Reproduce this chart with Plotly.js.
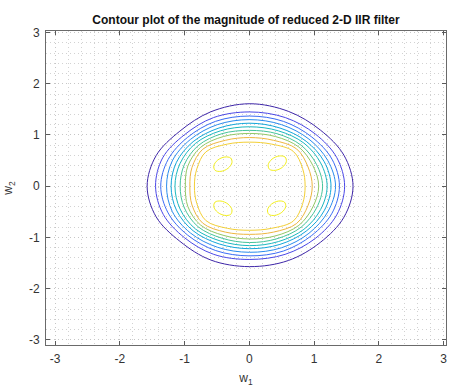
<!DOCTYPE html>
<html>
<head>
<meta charset="utf-8">
<script src="https://cdn.plot.ly/plotly-3.0.1.min.js"></script>
<style>
  html, body { margin: 0; padding: 0; background: #ffffff; }
  #chart { width: 450px; height: 387px; }
</style>
</head>
<body>
<div id="chart"></div>
<script>
// Directions (degrees, counter-clockwise from the +w1 axis) at which each
// contour radius is given.
const ANGLES_DEG = [0, 22.5, 45, 67.5, 90, 112.5, 135, 157.5,
                    180, 202.5, 225, 247.5, 270, 292.5, 315, 337.5];

// Contour radii, outermost (lowest magnitude) to innermost.
const LEVEL_0 = [1.60,1.58,1.55,1.58,1.61,1.57,1.52,1.56,1.58,1.56,1.52,1.56,1.57,1.57,1.55,1.58];
const LEVEL_1 = [1.47,1.46,1.44,1.45,1.45,1.45,1.42,1.45,1.45,1.44,1.42,1.44,1.43,1.44,1.44,1.46];
const LEVEL_2 = [1.39,1.38,1.36,1.37,1.37,1.37,1.35,1.36,1.37,1.36,1.35,1.36,1.36,1.37,1.36,1.38];
const LEVEL_3 = [1.33,1.31,1.30,1.30,1.30,1.30,1.29,1.29,1.28,1.29,1.29,1.29,1.29,1.30,1.30,1.31];
const LEVEL_4 = [1.26,1.25,1.24,1.23,1.23,1.23,1.23,1.22,1.21,1.22,1.23,1.22,1.22,1.23,1.24,1.25];
const LEVEL_5 = [1.20,1.19,1.19,1.17,1.16,1.17,1.18,1.16,1.15,1.16,1.18,1.16,1.16,1.17,1.19,1.19];
const LEVEL_6 = [1.13,1.12,1.13,1.11,1.09,1.11,1.12,1.09,1.07,1.09,1.12,1.10,1.10,1.11,1.13,1.12];
const LEVEL_7 = [1.07,1.06,1.08,1.05,1.03,1.05,1.07,1.03,0.99,1.03,1.07,1.04,1.03,1.05,1.08,1.06];
const LEVEL_8 = [0.97,0.98,1.03,0.97,0.95,0.97,1.02,0.96,0.92,0.96,1.02,0.97,0.94,0.97,1.03,0.98];
const LEVEL_9 = [0.86,0.89,0.96,0.89,0.86,0.89,0.95,0.88,0.85,0.88,0.95,0.89,0.86,0.89,0.96,0.89];

const LEVELS = [LEVEL_0, LEVEL_1, LEVEL_2, LEVEL_3, LEVEL_4,
                LEVEL_5, LEVEL_6, LEVEL_7, LEVEL_8, LEVEL_9];

// Highest level: four small closed loops near the diagonals.
const PEAK_UL_X = [-0.29,-0.38,-0.49,-0.55,-0.53,-0.44,-0.33,-0.27];
const PEAK_UL_Y = [ 0.55, 0.57, 0.51, 0.40, 0.31, 0.29, 0.35, 0.46];
const PEAK_UR_X = [ 0.31, 0.40, 0.51, 0.57, 0.55, 0.46, 0.35, 0.29];
const PEAK_UR_Y = [ 0.33, 0.31, 0.37, 0.48, 0.57, 0.59, 0.53, 0.42];
const PEAK_LL_X = [-0.29,-0.27,-0.33,-0.44,-0.53,-0.55,-0.49,-0.38];
const PEAK_LL_Y = [-0.55,-0.46,-0.35,-0.29,-0.31,-0.40,-0.51,-0.57];
const PEAK_LR_X = [ 0.30, 0.39, 0.50, 0.56, 0.54, 0.45, 0.34, 0.28];
const PEAK_LR_Y = [-0.55,-0.57,-0.51,-0.40,-0.31,-0.29,-0.35,-0.46];

// parula-style colours, low to high level
const LEVEL_COLORS = ['#3e26a8', '#4a47e6', '#3a6cf5', '#2a8cee', '#12a6da',
                      '#1bb8bf', '#45c49a', '#93c865', '#eeb63f', '#f3cf35'];
const PEAK_COLOR = '#f3ef1c';

const AXIS_TICKS = [-3, -2, -1, 0, 1, 2, 3];

const traces = [];

function closed(arr) { return arr.concat([arr[0]]); }

LEVELS.forEach(function (radii, i) {
  const xs = [], ys = [];
  radii.forEach(function (r, k) {
    const a = ANGLES_DEG[k] * Math.PI / 180;
    xs.push(r * Math.cos(a));
    ys.push(r * Math.sin(a));
  });
  traces.push({
    type: 'scatter', mode: 'lines',
    x: closed(xs), y: closed(ys),
    line: { color: LEVEL_COLORS[i], width: 1, shape: 'spline', smoothing: 1 },
    hoverinfo: 'skip'
  });
});

[[PEAK_UL_X, PEAK_UL_Y], [PEAK_UR_X, PEAK_UR_Y],
 [PEAK_LL_X, PEAK_LL_Y], [PEAK_LR_X, PEAK_LR_Y]].forEach(function (p) {
  traces.push({
    type: 'scatter', mode: 'lines',
    x: closed(p[0]), y: closed(p[1]),
    line: { color: PEAK_COLOR, width: 1, shape: 'spline', smoothing: 1 },
    hoverinfo: 'skip'
  });
});

const FONT = 'Liberation Sans, Arial, Helvetica, sans-serif';

function axis(range, titleText) {
  return {
    range: range,
    tickmode: 'array', tickvals: AXIS_TICKS, ticktext: AXIS_TICKS.map(String),
    ticks: 'inside', ticklen: 4, tickcolor: '#5a5a5a', tickwidth: 1,
    ticklabelstandoff: 3,
    showline: true, linecolor: '#6a6a6a', linewidth: 1, mirror: 'allticks',
    showgrid: true, gridcolor: '#c6c6c6', griddash: '1px,3px', gridwidth: 1,
    zeroline: false,
    minor: { tickmode: 'linear', tick0: 0, dtick: 0.2, showgrid: true,
             gridcolor: '#d2d2d2', griddash: '1px,3px', gridwidth: 1, ticks: '' },
    tickfont: { family: FONT, size: 12, color: '#333333' },
    title: { text: titleText, font: { family: FONT, size: 12, color: '#333333' } }
  };
}

const layout = {
  width: 450, height: 387,
  margin: { l: 46, r: 4, t: 31, b: 42 },
  paper_bgcolor: '#ffffff', plot_bgcolor: '#ffffff',
  showlegend: false,
  title: {
    text: '<b>Contour plot of the magnitude of reduced 2-D IIR filter</b>',
    font: { family: FONT, size: 12, color: '#111111' },
    x: 0.5, xref: 'paper', xanchor: 'center',
    y: 1 - 20 / 387, yref: 'container', yanchor: 'middle'
  },
  xaxis: axis([-3.142, 3.036], 'w<sub>1</sub>'),
  yaxis: axis([-3.10, 3.03], 'w<sub>2</sub>')
};

Plotly.newPlot('chart', traces, layout, { displayModeBar: false, staticPlot: true });
</script>
</body>
</html>
